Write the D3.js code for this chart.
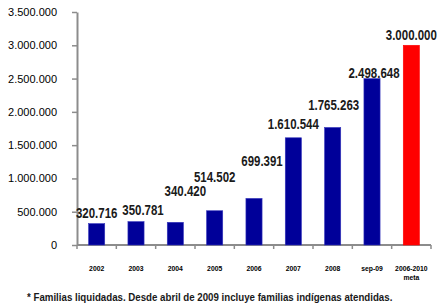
<!DOCTYPE html>
<html>
<head>
<meta charset="utf-8">
<script src="https://cdn.jsdelivr.net/npm/d3@7"></script>
<style>
  body { margin: 0; background: #fff; }
  svg { display: block; }
</style>
</head>
<body>
<script>
// data
const categories = ['2002', '2003', '2004', '2005', '2006', '2007', '2008', 'sep-09', '2006-2010'];
const subLabels = ['', '', '', '', '', '', '', '', 'meta'];
const values = [320716, 350781, 340420, 514502, 699391, 1610544, 1765263, 2498648, 3000000];
const isGoal = [false, false, false, false, false, false, false, false, true];
const yTicks = [0, 500000, 1000000, 1500000, 2000000, 2500000, 3000000, 3500000];
const footnote = '* Familias liquidadas. Desde abril de 2009 incluye familias indígenas atendidas.';

// label nudges (pixels) so the value labels sit as in the original
const labelDx = [0, 7, 10, 0, 8, 0, 1, 2, 0];
const labelDy = [6, 7, 26, 29, 32, 9, 17, 1, 5];

const width = 437, height = 308;
const margin = { left: 77, right: 6, top: 12, bottom: 63 };
const narrow = 0.82; // squeeze to mimic a narrow bold face

const svg = d3.select('body').append('svg')
  .attr('width', width)
  .attr('height', height);

const x = d3.scaleBand()
  .domain(categories)
  .range([margin.left, width - margin.right])
  .paddingInner(0.59)
  .paddingOuter(0.295);

const y = d3.scaleLinear()
  .domain([0, 3500000])
  .range([height - margin.bottom, margin.top]);

const fmt = d => d3.format(',')(d).replace(/,/g, '.');

// y axis
const yAxis = svg.append('g')
  .attr('transform', `translate(${margin.left},0)`)
  .call(d3.axisLeft(y).tickValues(yTicks).tickSize(5).tickPadding(15).tickFormat(fmt).tickSizeOuter(0));
yAxis.select('.domain').attr('stroke', '#8c8c8c').attr('stroke-width', 2);
yAxis.selectAll('.tick line').attr('stroke', '#8c8c8c').attr('stroke-width', 1.5);
yAxis.selectAll('.tick text')
  .attr('font-family', 'Liberation Sans, Arial, sans-serif')
  .attr('font-size', 11)
  .attr('fill', '#000');

// x axis with ticks at band edges
const xAxisG = svg.append('g')
  .attr('transform', `translate(0,${y(0)})`);
xAxisG.append('line')
  .attr('x1', margin.left).attr('x2', width - margin.right)
  .attr('stroke', '#8c8c8c').attr('stroke-width', 2);
const step = x.step();
const edges = d3.range(categories.length + 1).map(i => x(categories[0]) - x.paddingOuter() * step + i * step);
xAxisG.selectAll('line.edge')
  .data(edges)
  .join('line')
  .attr('class', 'edge')
  .attr('x1', d => d).attr('x2', d => d)
  .attr('y1', 0).attr('y2', 4)
  .attr('stroke', '#8c8c8c').attr('stroke-width', 1.5);

xAxisG.selectAll('text.cat')
  .data(categories)
  .join('text')
  .attr('class', 'cat')
  .attr('transform', d => `translate(${x(d) + x.bandwidth() / 2},26) scale(0.85,1)`)
  .attr('text-anchor', 'middle')
  .attr('font-family', 'Liberation Sans, Arial, sans-serif')
  .attr('font-weight', 'bold')
  .attr('font-size', 8)
  .text(d => d);

xAxisG.selectAll('text.sub')
  .data(categories)
  .join('text')
  .attr('class', 'sub')
  .attr('transform', d => `translate(${x(d) + x.bandwidth() / 2},35) scale(0.85,1)`)
  .attr('text-anchor', 'middle')
  .attr('font-family', 'Liberation Sans, Arial, sans-serif')
  .attr('font-weight', 'bold')
  .attr('font-size', 8)
  .text((d, i) => subLabels[i]);

// bars
svg.selectAll('rect.bar')
  .data(values)
  .join('rect')
  .attr('class', 'bar')
  .attr('x', (d, i) => x(categories[i]))
  .attr('y', d => y(d))
  .attr('width', x.bandwidth())
  .attr('height', d => y(0) - y(d))
  .attr('fill', (d, i) => isGoal[i] ? '#ff0000' : '#000099')
  .attr('stroke', (d, i) => isGoal[i] ? '#ff0000' : '#3333bb')
  .attr('stroke-width', 0.6);

// value labels
svg.selectAll('text.val')
  .data(values)
  .join('text')
  .attr('class', 'val')
  .attr('transform', (d, i) =>
    `translate(${x(categories[i]) + x.bandwidth() / 2 + labelDx[i]},${y(d) - labelDy[i]}) scale(${narrow},1)`)
  .attr('text-anchor', 'middle')
  .attr('font-family', 'Liberation Sans, Arial, sans-serif')
  .attr('font-weight', 'bold')
  .attr('font-size', 14)
  .attr('fill', '#1a1a1a')
  .text(fmt);

// footnote, squeezed to the original's width
const note = svg.append('text')
  .attr('font-family', 'Liberation Sans, Arial, sans-serif')
  .attr('font-weight', 'bold')
  .attr('font-size', 11.5)
  .attr('fill', '#1a1a1a')
  .text(footnote);
const noteLen = note.node().getComputedTextLength();
note.attr('transform', `translate(27,301) scale(${366 / noteLen},1)`);
</script>
</body>
</html>
